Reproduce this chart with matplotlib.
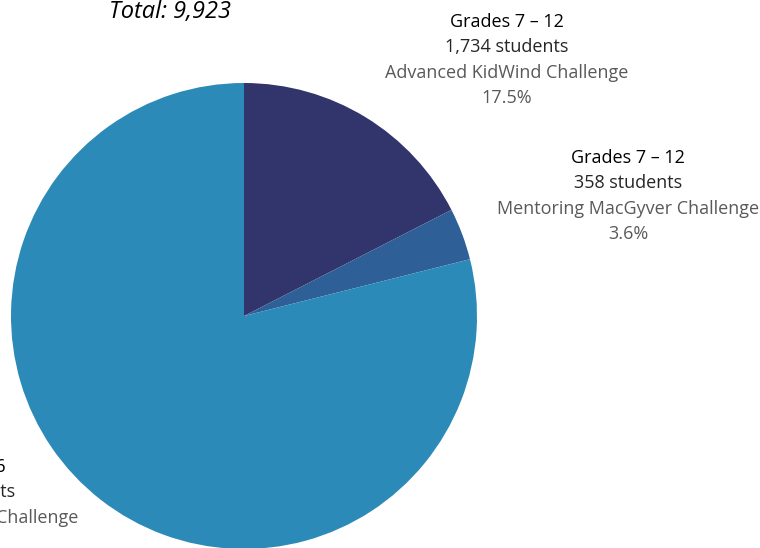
import matplotlib.pyplot as plt

# data
programs = ['Advanced KidWind Challenge', 'Mentoring MacGyver Challenge', 'Mentoring KidWind Challenge']
grades = ['Grades 7 \u2013 12', 'Grades 7 \u2013 12', 'Grades 4 \u2013 6']
students = [1734, 358, 7831]
colors = ['#31356B', '#2E5F96', '#2C8AB8']

total = sum(students)
W, H = 760, 548

plt.rcParams['font.family'] = ['Open Sans', 'DejaVu Sans']
fig = plt.figure(figsize=(W / 100, H / 100), dpi=100, facecolor='white')

# pie centre (244, 316) px from top-left, radius ~233 px
cx, cy, r = 244, 316, 233
ax = fig.add_axes([(cx - r) / W, (H - cy - r) / H, 2 * r / W, 2 * r / H])
ax.pie(students, colors=colors, startangle=90, counterclock=False,
       wedgeprops=dict(linewidth=0))
ax.set_xlim(-1, 1)
ax.set_ylim(-1, 1)
ax.axis('off')

fig.text(170 / W, 1 - 12 / H, f'Total: {total:,}', ha='center', va='center',
         fontsize=17, fontstyle='italic', color='black')

# label blocks: centre x, first line y (pixels from top)
label_pos = [(507, 22), (628, 158), (-46, 467)]
line_gap = 25.4
for g, n, p, (lx, ly) in zip(grades, students, programs, label_pos):
    pct = n / total * 100
    lines = [(g, 'black'),
             (f'{n:,} students', '#262626'),
             (p, '#595959'),
             (f'{pct:.1f}%', '#595959')]
    for i, (txt, col) in enumerate(lines):
        fig.text(lx / W, 1 - (ly + i * line_gap) / H, txt, ha='center', va='center',
                 fontsize=13, color=col)

plt.savefig('out.png', dpi=100)
plt.close()
